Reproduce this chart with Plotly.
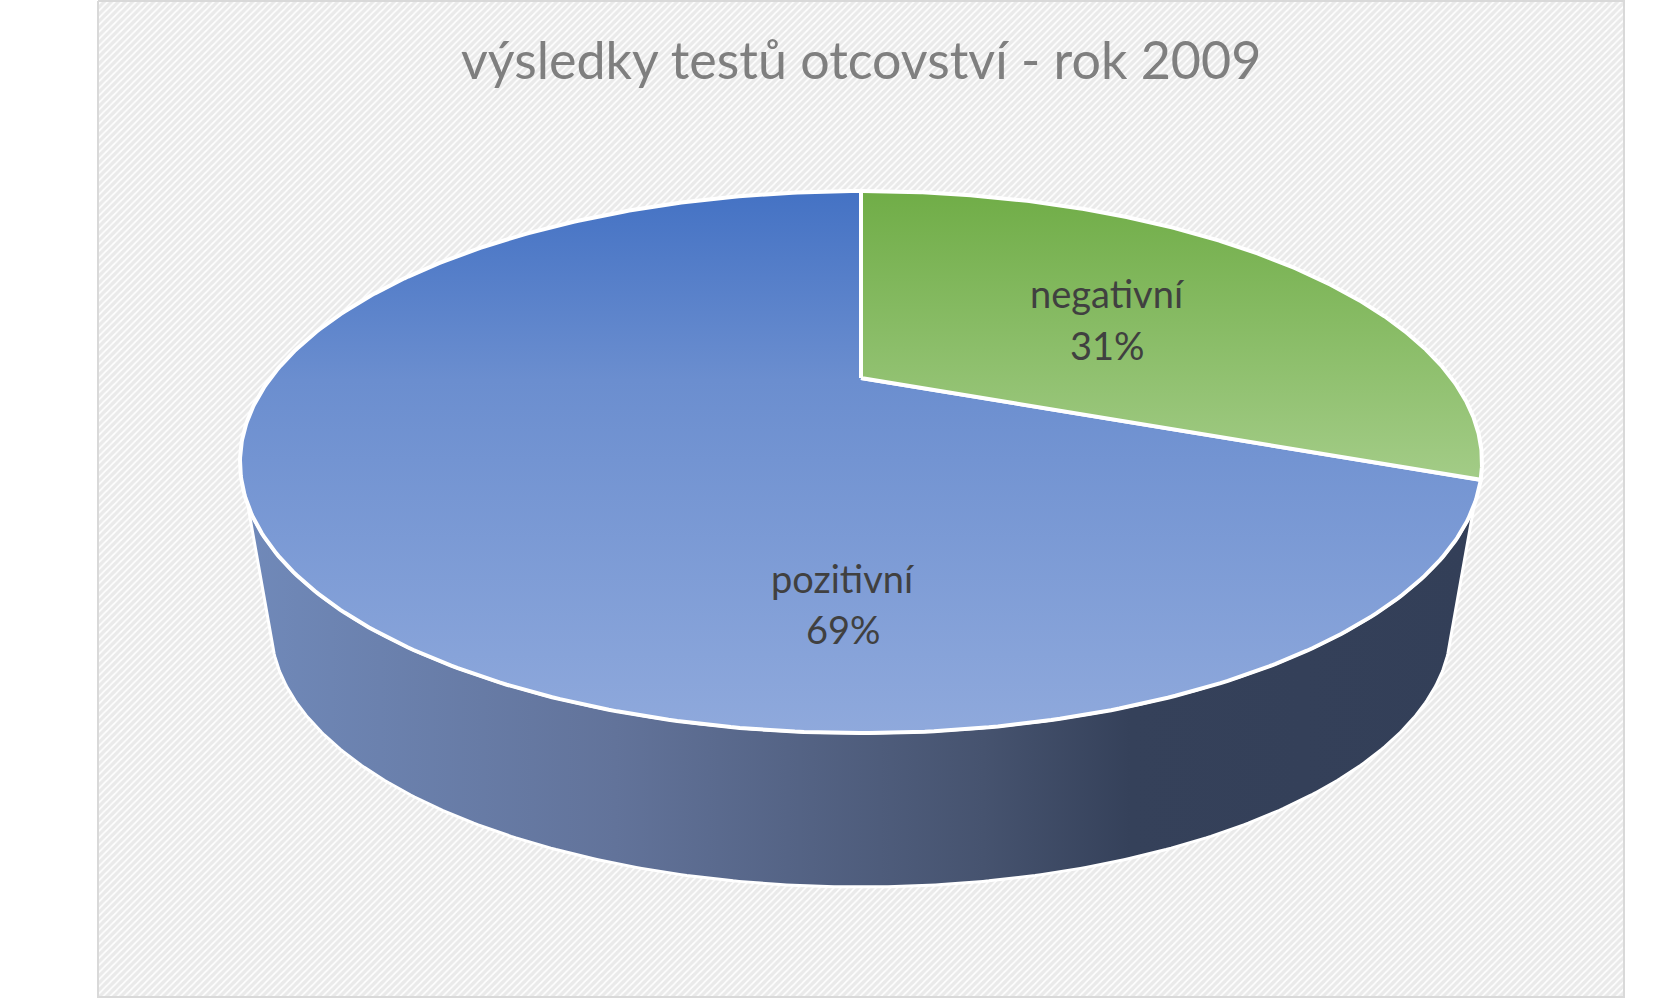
import numpy as np
import plotly.graph_objects as go

# --- data ---
TITLE = "výsledky testů otcovství - rok 2009"
categories = ["negativní", "pozitivní"]
values = [31, 69]

# --- style / geometry (pixels of the picture) ---
W, H = 1662, 998
CX, CY = 861, 378          # slice apex in perspective
A, B, K = 590.4, 245, 0.3101
LOW_CY, LOW_A, LOW_B = 627, 590, 260
SLICE_GRAD = {
    "negativní": [[0, "#a3cc87"], [1, "#70ad47"]],
    "pozitivní": [[0, "#8fa9dc"], [0.65, "#6b8ecf"], [1, "#4472c4"]],
}
LABEL_POS = {"negativní": (1107, 293, 345), "pozitivní": (843, 578, 629)}
SIDE_SCALE = [[0, "#7089b9"], [0.3, "#62739a"], [0.6, "#46536f"], [0.72, "#35415a"], [1, "#333f58"]]


def rim(t):
    d = 1 + K * np.sin(t)
    return CX + A * np.cos(t) / d, CY - B * np.sin(t) / d


fig = go.Figure()

# chart area with hatch
fig.add_trace(go.Scatter(
    x=[98, 1624, 1624, 98, 98], y=[1, 1, 997, 997, 1], mode="lines", fill="toself",
    line=dict(color="#d9d9d9", width=2), fillcolor="#ffffff",
    fillpattern=dict(shape="/", size=5, solidity=0.7, fgcolor="#d6d6d6", bgcolor="#ffffff"),
    hoverinfo="skip"))

# side wall
t_top = np.radians(np.linspace(206.5, 333.5, 200))
x_top, y_top = rim(t_top)
phi = np.radians(np.linspace(183, 357, 300))
x_low = CX + LOW_A * np.cos(phi)
y_low = LOW_CY - LOW_B * np.sin(phi)
fig.add_trace(go.Scatter(
    x=np.r_[x_low, x_top[::-1], x_low[0]], y=np.r_[y_low, y_top[::-1], y_low[0]],
    mode="lines", fill="toself", line=dict(color="#ffffff", width=3),
    fillgradient=dict(type="horizontal", colorscale=SIDE_SCALE),
    hoverinfo="skip"))

# top slices, clockwise from twelve o'clock
total = sum(values)
order = sorted(range(len(values)), key=lambda i: -values[i])
start = {}
angle = 0.0
for i in range(len(values)):
    start[i] = angle
    angle += values[i] / total * 360
for i in order:
    a0 = np.radians(90 - start[i])
    a1 = np.radians(90 - start[i] - values[i] / total * 360)
    t = np.linspace(a0, a1, 400)
    x, y = rim(t)
    fig.add_trace(go.Scatter(
        x=np.r_[CX, x, CX], y=np.r_[CY, y, CY], mode="lines", fill="toself",
        line=dict(color="#ffffff", width=4),
        fillgradient=dict(type="vertical", colorscale=SLICE_GRAD[categories[i]]),
        hoverinfo="skip"))

annotations = [dict(x=861, y=59, text=TITLE, showarrow=False, xref="x", yref="y",
                    font=dict(family="Lato", size=52, color="#7f7f7f"))]
for cat, v in zip(categories, values):
    lx, ly0, ly1 = LABEL_POS[cat]
    annotations.append(dict(x=lx, y=ly0, text=cat, showarrow=False, xref="x", yref="y",
                            font=dict(family="Lato", size=38, color="#404040")))
    annotations.append(dict(x=lx, y=ly1, text=f"{v}%", showarrow=False, xref="x", yref="y",
                            font=dict(family="Lato", size=38, color="#404040")))

fig.update_layout(
    width=W, height=H, autosize=False, margin=dict(l=0, r=0, t=0, b=0, pad=0),
    paper_bgcolor="#ffffff", plot_bgcolor="#ffffff", showlegend=False,
    xaxis=dict(range=[0, W], visible=False, fixedrange=True),
    yaxis=dict(range=[H, 0], visible=False, fixedrange=True),
    annotations=annotations,
)
fig.write_html("out.html", config=dict(displayModeBar=False),
               post_script="document.body.style.margin='0';document.body.style.overflow='hidden';")
